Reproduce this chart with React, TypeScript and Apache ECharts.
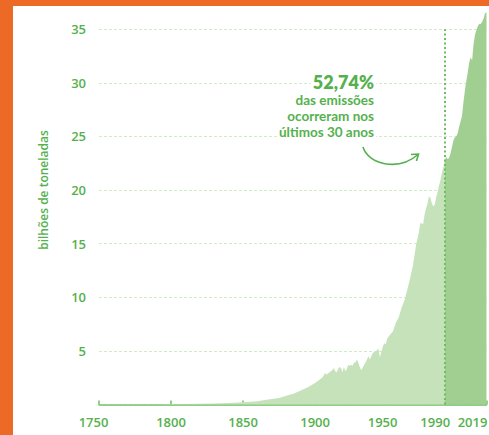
import React, { useEffect, useRef } from "react";
import * as echarts from "echarts";

const earlyYears = [
  1750, 1760, 1770, 1780, 1790, 1800, 1810, 1820, 1830, 1840, 1850, 1855, 1860, 1865, 1870, 1875, 1880, 1885, 1890, 1895,
  1900, 1903, 1905, 1907, 1908, 1910, 1912, 1913, 1914, 1915, 1916, 1917, 1918, 1919, 1920, 1921, 1922, 1923, 1924, 1925,
  1926, 1927, 1928, 1929, 1930, 1931, 1932, 1933, 1934, 1935, 1936, 1937, 1938, 1939, 1940, 1941, 1942, 1943, 1944, 1945,
  1946, 1947, 1948, 1949, 1950, 1952, 1954, 1956, 1958, 1960, 1962, 1964, 1966, 1968, 1970, 1972, 1973, 1974, 1975, 1976,
  1977, 1978, 1979, 1980, 1981, 1982, 1983, 1984, 1985, 1986, 1987, 1988, 1989, 1990,
];
const earlyValues = [
  0.01, 0.01, 0.015, 0.02, 0.025, 0.03, 0.04, 0.05, 0.08, 0.12, 0.2, 0.25, 0.3, 0.4, 0.5, 0.6, 0.8, 1.0, 1.3, 1.6,
  2.0, 2.3, 2.5, 2.9, 2.8, 3.0, 3.2, 3.4, 3.1, 3.0, 3.3, 3.5, 3.4, 3.0, 3.5, 3.1, 3.3, 3.7, 3.6, 3.7,
  3.6, 3.9, 3.9, 4.2, 3.9, 3.5, 3.2, 3.4, 3.7, 3.9, 4.2, 4.5, 4.2, 4.5, 4.8, 4.9, 4.9, 5.1, 5.2, 4.4,
  4.9, 5.4, 5.7, 5.6, 6.1, 6.5, 6.8, 7.6, 8.1, 9.0, 9.7, 10.7, 11.8, 13.0, 14.8, 16.0, 16.9, 16.9, 16.8, 17.7,
  18.3, 18.7, 19.4, 19.3, 18.8, 18.5, 18.6, 19.3, 19.8, 20.4, 20.9, 21.6, 22.1, 22.7,
];

const recentYears = [
  1990, 1991, 1992, 1993, 1994, 1995, 1996, 1997, 1998, 1999, 2000, 2001, 2002, 2003, 2004,
  2005, 2006, 2007, 2008, 2009, 2010, 2011, 2012, 2013, 2014, 2015, 2016, 2017, 2018, 2019,
];
const recentValues = [
  22.7, 23.1, 22.9, 23.0, 23.4, 24.0, 24.6, 24.9, 25.0, 25.3, 25.9, 26.4, 26.9, 28.2, 29.3,
  30.2, 31.0, 31.9, 32.4, 32.1, 33.6, 34.5, 34.9, 35.3, 35.5, 35.5, 35.7, 36.0, 36.5, 36.6,
];

const xTickYears = [1750, 1800, 1850, 1900, 1950, 1990, 2019];
const markYear = 1990;

const yAxisTitle = "bilhões de toneladas";
const noteHead = "52,74%";
const noteLines = ["das emissões", "ocorreram nos", "últimos 30 anos"];

const GREEN = "#55b14e";
const FONT = "'Open Sans', 'Noto Sans', sans-serif";
const NOTE_FONT = "Lato, 'Open Sans', sans-serif";

// label style key per tick year (shifts some labels left like the reference)
const labelKey = (v: number) => {
  if (v === 1750) return "s5";
  if (v === 1950) return "s4";
  if (v === 1990) return "s9";
  if (v === 2019) return "s14";
  return "n";
};

export default function App() {
  const ref = useRef<HTMLDivElement>(null);

  useEffect(() => {
    if (!ref.current) return;
    const chart = echarts.init(ref.current, null, { renderer: "svg" });

    const early = earlyYears.map((y, i) => [y, earlyValues[i]]);
    const recent = recentYears.map((y, i) => [y, recentValues[i]]);

    const lblBase = { color: GREEN, fontFamily: FONT, fontWeight: 600, fontSize: 13 };

    const noteText = (t: string, y: number, font: string) => ({
      type: "text",
      x: 376,
      y,
      style: {
        text: t,
        fill: GREEN,
        font,
        align: "right",
        verticalAlign: "middle",
        backgroundColor: "#ffffff",
        padding: [0, 2, 0, 2],
      },
      z: 50,
    });

    const option: any = {
      animation: false,
      backgroundColor: "#ffffff",
      grid: { left: 99, right: 2.5, top: 29.3, bottom: 30.6, outerBoundsMode: "none" },
      xAxis: {
        type: "value",
        min: 1750,
        max: 2019,
        axisLine: { show: true, lineStyle: { color: "#6cbf60", width: 1.5 } },
        axisTick: {
          show: true,
          inside: true,
          length: 4,
          customValues: xTickYears,
          lineStyle: { color: "#6cbf60", width: 1.5 },
        },
        axisLabel: {
          customValues: xTickYears,
          ...lblBase,
          margin: 11,
          formatter: (v: number) => `{${labelKey(v)}|${v}}`,
          rich: {
            n: { ...lblBase },
            s4: { ...lblBase, padding: [0, 9, 0, 0] },
            s5: { ...lblBase, padding: [0, 11, 0, 0] },
            s9: { ...lblBase, padding: [0, 19, 0, 0] },
            s14: { ...lblBase, padding: [0, 28, 0, 0] },
          },
        },
        splitLine: { show: false },
      },
      yAxis: {
        type: "value",
        min: 0,
        max: 35,
        interval: 5,
        axisLine: { show: false },
        axisTick: { show: false },
        axisLabel: {
          ...lblBase,
          margin: 13,
          formatter: (v: number) => (v === 0 ? "" : String(v)),
        },
        splitLine: { show: true, lineStyle: { color: "#d2e9cb", width: 1, type: [3, 2] } },
      },
      series: [
        {
          type: "line",
          data: early,
          showSymbol: false,
          clip: false,
          lineStyle: { width: 0 },
          areaStyle: { color: "#c6e2bb", opacity: 1 },
          z: 2,
        },
        {
          type: "line",
          data: recent,
          showSymbol: false,
          clip: false,
          lineStyle: { width: 0 },
          areaStyle: { color: "#a1cf91", opacity: 1 },
          z: 3,
          markLine: {
            silent: true,
            symbol: "none",
            label: { show: false },
            lineStyle: { color: "#6abf5e", width: 2, type: [2, 2.5] },
            data: [{ xAxis: markYear }],
          },
        },
      ],
      graphic: [
        { type: "rect", shape: { x: 0, y: 0, width: 13, height: 435 }, style: { fill: "#ec6a25" }, z: 100 },
        { type: "rect", shape: { x: 0, y: 0, width: 489, height: 6 }, style: { fill: "#ec6a25" }, z: 100 },
        {
          type: "text",
          x: 43,
          y: 190,
          rotation: Math.PI / 2,
          style: {
            text: yAxisTitle,
            fill: GREEN,
            font: `600 12px ${FONT}`,
            align: "center",
            verticalAlign: "middle",
          },
          z: 50,
        },
        noteText(noteHead, 81.5, `800 18px ${NOTE_FONT}`),
        ...noteLines.map((t, i) => noteText(t, 100.3 + i * 15.9, `700 13.5px ${NOTE_FONT}`)),
        {
          type: "bezierCurve",
          shape: { x1: 363, y1: 147, cpx1: 368, cpy1: 164, cpx2: 398, cpy2: 172, x2: 418, y2: 154.5 },
          style: { stroke: GREEN, lineWidth: 1.6, fill: null },
          z: 50,
        },
        {
          type: "polyline",
          shape: { points: [[411, 154.5], [418.5, 154], [416.5, 161]] },
          style: { stroke: GREEN, lineWidth: 1.6, fill: null },
          z: 50,
        },
      ],
    };

    chart.setOption(option);
    return () => chart.dispose();
  }, []);

  return (
    <div
      ref={ref}
      style={{ position: "fixed", left: 0, top: 0, width: 489, height: 435, background: "#fff" }}
    />
  );
}
